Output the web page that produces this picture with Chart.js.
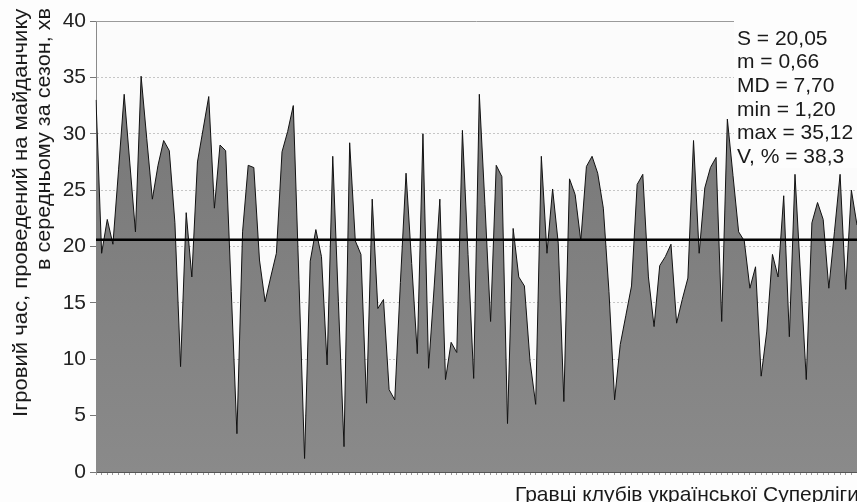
<!DOCTYPE html>
<html lang="uk">
<head>
    <meta charset="UTF-8">
    <title>Ігровий час гравців Суперліги</title>
    <script src="https://cdn.jsdelivr.net/npm/chart.js@4.4.1/dist/chart.umd.min.js"></script>
    <style>
        html, body { margin: 0; padding: 0; background: #fdfdfd; overflow: hidden; }
        #wrap { width: 857px; height: 502px; }
    </style>
</head>
<body>
    <div id="wrap">
        <canvas id="chart" width="857" height="502"></canvas>
    </div>

    <script>
        // minutes per match, one value per player
        var minutes = [
            33.0, 19.4, 22.4, 20.2, 26.8, 33.5, 27.4, 21.3, 35.1, 29.6,
            24.2, 27.2, 29.4, 28.5, 22.1, 9.35, 23.0, 17.3, 27.5, 30.4,
            33.3, 23.4, 29.0, 28.5, 16.0, 3.4, 21.3, 27.2, 27.0, 18.8,
            15.1, 17.3, 19.4, 28.4, 30.2, 32.5, 17.1, 1.2, 18.7, 21.5,
            19.1, 9.5, 28.0, 15.1, 2.25, 29.2, 20.5, 19.3, 6.1, 24.2,
            14.5, 15.3, 7.3, 6.4, 16.8, 26.5, 18.5, 10.5, 30.0, 9.2,
            16.5, 24.2, 8.2, 11.5, 10.6, 30.3, 19.3, 8.3, 33.5, 23.7,
            13.35, 27.2, 26.2, 4.3, 21.6, 17.3, 16.5, 9.8, 6.0, 28.0,
            19.4, 25.1, 20.3, 6.25, 26.0, 24.6, 20.5, 27.1, 28.0, 26.5,
            23.4, 16.0, 6.4, 11.3, 13.9, 16.5, 25.5, 26.4, 17.3, 12.9,
            18.3, 19.1, 20.2, 13.2, 15.3, 17.2, 29.4, 19.4, 25.2, 27.0,
            27.9, 13.35, 31.3, 26.3, 21.3, 20.5, 16.3, 18.2, 8.5, 12.5,
            19.3, 17.3, 24.5, 12.0, 26.4, 17.3, 8.2, 22.1, 23.9, 22.4,
            16.3, 21.3, 26.4, 16.2, 25.0, 21.9
        ];
        var players = minutes.map(function (v, i) { return i + 1; });
        var meanLevel = 20.6;
        var meanLine = minutes.map(function () { return meanLevel; });

        var yMin = 0, yMax = 40, yStep = 5;
        var stats = ['S = 20,05', 'm = 0,66', 'MD = 7,70', 'min = 1,20', 'max = 35,12', 'V, % = 38,3'];
        var yTitle = ['Ігровий час, проведений на майданчику', 'в середньому за сезон, хв'];
        var xTitle = 'Гравці клубів української Суперліги';

        var FONT = '"Liberation Sans", Arial, sans-serif';
        Chart.defaults.font.family = FONT;
        Chart.defaults.color = '#222';

        // plot background, solid top border, titles and the stats box
        var decor = {
            id: 'decor',
            beforeDraw: function (chart) {
                var c = chart.ctx, a = chart.chartArea;
                c.save();
                c.fillStyle = '#fbfbfb';
                c.fillRect(a.left, a.top, a.right - a.left, a.bottom - a.top);
                c.restore();
            },
            afterDraw: function (chart) {
                var c = chart.ctx, a = chart.chartArea;
                c.save();
                c.strokeStyle = '#9a9a9a';
                c.lineWidth = 1;
                c.beginPath();
                c.moveTo(a.left, a.top + 0.5);
                c.lineTo(a.right, a.top + 0.5);
                c.stroke();

                // stats box
                c.fillStyle = '#fdfdfd';
                c.fillRect(734, 16, a.right - 734, 152);
                c.fillStyle = '#1a1a1a';
                c.font = '21px ' + FONT;
                c.textBaseline = 'alphabetic';
                c.textAlign = 'left';
                stats.forEach(function (s, i) {
                    c.fillText(s, 737, 44.5 + i * 23.7);
                });

                // y title, two rotated lines
                c.save();
                c.translate(27, 417);
                c.rotate(-Math.PI / 2);
                c.scale(1.05, 1);
                c.fillText(yTitle[0], 0, 0);
                c.restore();
                c.save();
                c.translate(50, 270);
                c.rotate(-Math.PI / 2);
                c.scale(1.03, 1);
                c.fillText(yTitle[1], 0, 0);
                c.restore();

                // x title, runs off the right edge as in the source
                c.fillText(xTitle, 515, 501);
                c.restore();
            }
        };

        var ctx = document.getElementById('chart').getContext('2d');
        new Chart(ctx, {
            type: 'line',
            data: {
                labels: players,
                datasets: [{
                    data: meanLine,
                    borderColor: '#000',
                    borderWidth: 2.5,
                    pointRadius: 0,
                    fill: false,
                    order: 1
                }, {
                    data: minutes,
                    borderColor: '#111',
                    borderWidth: 1,
                    pointRadius: 0,
                    tension: 0,
                    fill: 'origin',
                    backgroundColor: function (context) {
                        var area = context.chart.chartArea;
                        if (!area) return '#7c7c7c';
                        var g = context.chart.ctx.createLinearGradient(0, area.top, 0, area.bottom);
                        g.addColorStop(0, '#747474');
                        g.addColorStop(1, '#8a8a8a');
                        return g;
                    },
                    order: 2
                }]
            },
            options: {
                responsive: false,
                animation: false,
                layout: { padding: { top: 21, right: 0, bottom: 0, left: 0 } },
                plugins: {
                    legend: { display: false },
                    tooltip: { enabled: false }
                },
                scales: {
                    x: {
                        offset: false,
                        ticks: { display: false, autoSkip: false },
                        grid: { drawOnChartArea: false, tickLength: 3, color: '#999' },
                        border: { color: '#555', width: 1 },
                        afterFit: function (s) { s.height = 30; }
                    },
                    y: {
                        min: yMin,
                        max: yMax,
                        ticks: { stepSize: yStep, padding: 4, color: '#222', font: { size: 21 } },
                        grid: { color: '#c6c6c6', tickLength: 6, tickColor: '#777' },
                        border: { color: '#8a8a8a', width: 1, dash: [2, 2] },
                        afterFit: function (s) { s.width = 96; }
                    }
                }
            },
            plugins: [decor]
        });
    </script>
</body>
</html>
